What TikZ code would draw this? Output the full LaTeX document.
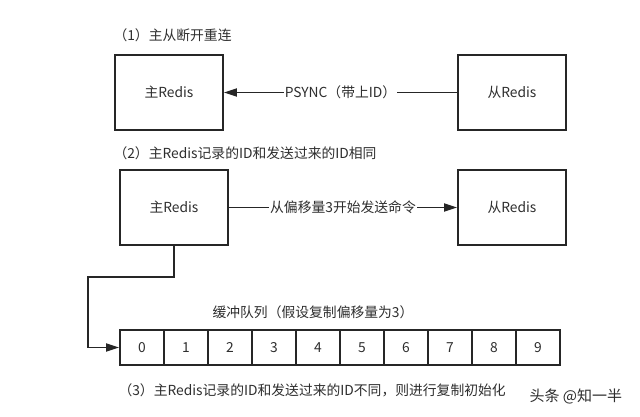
\documentclass[tikz,border=0pt]{standalone}
\usepackage{fontspec}
\setmainfont{Noto Sans CJK SC}
\usetikzlibrary{arrows.meta}
\begin{document}
\begin{tikzpicture}[x=1pt,y=-1pt,>={Triangle[length=13pt,width=8pt]},line join=miter,
		font=\fontsize{13.8}{15}\selectfont,text=black!82,
		box/.style={draw=black!85,line width=1.8pt,minimum width=108pt,minimum height=75pt,inner sep=0pt},
		cell/.style={draw=black!85,line width=1.8pt,minimum width=44pt,minimum height=35pt,inner sep=0pt},
		link/.style={draw=black!85,line width=1.8pt},
		tag/.style={fill=white,inner sep=1pt}]
	\useasboundingbox[fill=white] (0,0) rectangle (640,417);
	\def\rowA{92.5} \def\rowB{207.5} \def\rowC{347.5}
	% (1)
	\node[anchor=west] (t1) at (110,35) {（1）主从断开重连};
	\node[box] (m1) at (169,\rowA) {主Redis};
	\node[box] (s1) at (512,\rowA) {从Redis};
	\draw[link,<-] (m1) -- node[tag]{PSYNC（带上ID）} (s1);
	% (2)
	\node[anchor=west] (t2) at (110,153) {（2）主Redis记录的ID和发送过来的ID相同};
	\node[box] (m2) at (174,\rowB) {主Redis};
	\node[box] (s2) at (512,\rowB) {从Redis};
	\draw[link,->] (m2) -- node[tag]{从偏移量3开始发送命令} (s2);
	% queue
	\node (q) at (313,312) {缓冲队列（假设复制偏移量为3）};
	\foreach \i in {0,...,9}
		\node[cell] (c\i) at (142+44*\i,\rowC) {\i};
	\coordinate (turn) at (88,277);
	\draw[link,->] (m2.south) |- (turn) |- (c0.west);
	% (3)
	\node[anchor=west] (t3) at (115,390) {（3）主Redis记录的ID和发送过来的ID不同，则进行复制初始化};
	\node[anchor=west,font=\fontsize{15}{16}\selectfont] (wm) at (526,396) {头条 @知一半};
\end{tikzpicture}
\end{document}
